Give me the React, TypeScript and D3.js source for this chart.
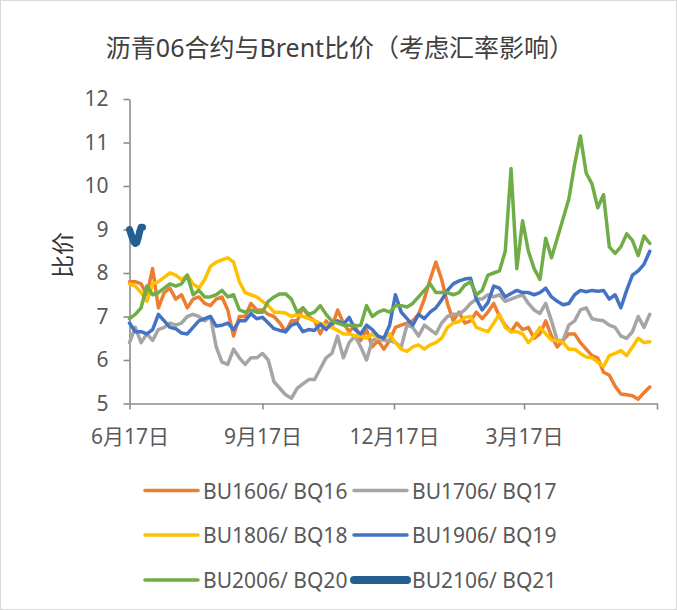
import { useRef, useEffect } from "react";
import * as d3 from "d3";

// x axis: one year from 6/17, series sampled every 4 days
const startDate = new Date(2020, 5, 17);
const endDate = new Date(2021, 5, 17);
const stepDays = 4;

const bu1606 = [7.8, 7.8, 7.75, 7.5, 8.1, 7.2, 7.55, 7.65, 7.4, 7.5, 7.2, 7.4, 7.45, 7.3, 7.25, 7.4, 7.45, 7.15, 6.55, 7.0, 7.0, 7.3, 7.15, 7.15, 7.05, 7.0, 6.85, 6.65, 6.9, 6.9, 7.2, 7.0, 6.9, 6.6, 6.9, 6.75, 7.15, 6.85, 6.65, 6.8, 6.45, 6.7, 6.3, 6.45, 6.25, 6.45, 6.75, 6.8, 6.85, 6.9, 7.05, 7.4, 7.85, 8.25, 7.85, 7.3, 6.9, 7.1, 6.85, 6.9, 7.1, 6.95, 7.1, 7.3, 7.0, 6.8, 6.65, 6.85, 6.7, 6.75, 6.5, 6.6, 6.9, 6.55, 6.3, 6.45, 6.6, 6.6, 6.4, 6.25, 6.1, 6.05, 5.72, 5.65, 5.4, 5.22, 5.2, 5.18, 5.1, 5.25, 5.38];
const bu1706 = [6.4, 6.75, 6.4, 6.6, 6.45, 6.7, 6.75, 6.85, 6.8, 6.85, 7.0, 7.05, 7.0, 6.9, 7.0, 6.3, 5.95, 5.9, 6.25, 6.05, 5.9, 6.05, 6.05, 6.15, 6.0, 5.5, 5.35, 5.2, 5.12, 5.35, 5.45, 5.55, 5.55, 5.8, 6.05, 6.15, 6.55, 6.05, 6.4, 6.55, 6.3, 6.0, 6.45, 6.5, 6.45, 6.45, 6.4, 6.3, 6.8, 6.75, 6.55, 6.8, 6.7, 6.6, 6.85, 7.0, 7.05, 7.05, 7.15, 7.3, 7.4, 7.4, 7.5, 7.45, 7.5, 7.35, 7.4, 7.45, 7.5, 7.3, 7.15, 7.07, 7.3, 6.9, 6.45, 6.45, 6.8, 6.9, 7.15, 7.2, 6.95, 6.92, 6.9, 6.8, 6.75, 6.55, 6.5, 6.65, 7.0, 6.75, 7.05];
const bu1806 = [7.75, 7.7, 7.55, 7.35, 7.75, 7.8, 7.9, 8.0, 7.95, 7.85, 7.95, 7.75, 7.65, 7.85, 8.15, 8.25, 8.3, 8.35, 8.25, 7.8, 7.55, 7.5, 7.45, 7.35, 7.25, 7.1, 7.1, 7.08, 7.0, 7.05, 7.0, 6.95, 6.9, 6.85, 6.8, 6.75, 6.68, 6.6, 6.6, 6.55, 6.55, 6.5, 6.6, 6.5, 6.5, 6.6, 6.4, 6.25, 6.2, 6.3, 6.35, 6.25, 6.35, 6.4, 6.5, 6.75, 6.85, 6.88, 6.98, 7.0, 6.75, 6.7, 6.65, 6.85, 7.05, 6.75, 6.65, 6.65, 6.6, 6.4, 6.55, 6.75, 6.6, 6.46, 6.45, 6.4, 6.25, 6.25, 6.15, 6.07, 6.05, 5.95, 5.85, 6.1, 6.15, 6.22, 6.1, 6.3, 6.5, 6.4, 6.42];
const bu1906 = [6.85, 6.65, 6.65, 6.6, 6.7, 7.05, 6.9, 6.75, 6.72, 6.62, 6.6, 6.75, 6.9, 6.95, 7.0, 6.78, 6.8, 6.85, 6.7, 6.9, 6.9, 7.07, 6.95, 6.98, 6.85, 6.72, 6.68, 6.65, 6.8, 6.85, 6.65, 6.7, 6.68, 6.82, 6.7, 6.85, 6.9, 6.82, 6.98, 6.7, 6.6, 6.8, 6.7, 6.55, 6.5, 6.8, 7.5, 7.1, 6.95, 6.8, 7.05, 6.95, 7.1, 7.2, 7.38, 7.6, 7.75, 7.82, 7.86, 7.88, 7.4, 7.15, 7.32, 7.7, 7.65, 7.45, 7.53, 7.6, 7.55, 7.55, 7.5, 7.55, 7.65, 7.45, 7.35, 7.27, 7.3, 7.5, 7.6, 7.57, 7.6, 7.58, 7.6, 7.4, 7.5, 7.2, 7.6, 7.95, 8.05, 8.2, 8.5];
const bu2006 = [6.95, 7.05, 7.2, 7.7, 7.5, 7.55, 7.65, 7.75, 7.7, 7.75, 7.95, 7.5, 7.6, 7.45, 7.45, 7.5, 7.6, 7.45, 7.5, 7.15, 7.1, 7.15, 7.1, 7.1, 7.35, 7.45, 7.52, 7.52, 7.4, 7.1, 7.2, 7.05, 7.1, 7.25, 7.05, 6.9, 6.85, 6.8, 6.8, 6.78, 6.8, 7.25, 7.0, 7.1, 7.15, 7.1, 7.25, 7.25, 7.22, 7.3, 7.45, 7.6, 7.75, 7.55, 7.55, 7.55, 7.5, 7.55, 7.72, 7.8, 7.5, 7.6, 7.95, 8.0, 8.05, 8.5, 10.4, 8.1, 9.2, 8.5, 8.1, 7.85, 8.8, 8.35, 8.8, 9.25, 9.7, 10.5, 11.15, 10.3, 10.05, 9.5, 9.8, 8.6, 8.45, 8.6, 8.9, 8.75, 8.4, 8.85, 8.68];
// BU2106 only has the first few trading days (daily values)
const bu2106 = [9.0, 8.9, 8.8, 8.72, 8.68, 8.7, 8.8, 8.95, 9.05, 9.05];

const seriesNames = ["BU1606/ BQ16", "BU1706/ BQ17", "BU1806/ BQ18", "BU1906/ BQ19", "BU2006/ BQ20", "BU2106/ BQ21"];
const seriesColors = ["#ED7D31", "#A5A5A5", "#FFC000", "#4472C4", "#70AD47", "#255E91"];

const yTicks = [5, 6, 7, 8, 9, 10, 11, 12];
const xTickDates = [new Date(2020, 5, 17), new Date(2020, 8, 17), new Date(2020, 11, 17), new Date(2021, 2, 17), new Date(2021, 5, 17)];
const xTickLabels = ["6月17日", "9月17日", "12月17日", "3月17日", ""];

const title = "沥青06合约与Brent比价（考虑汇率影响）";
const yLabel = "比价";

export default function App() {
  const svgRef = useRef<SVGSVGElement>(null);

  useEffect(() => {
    if (!svgRef.current) return;
    const svg = d3.select(svgRef.current);
    svg.selectAll("*").remove();

    const width = 677;
    const height = 610;
    const font = "'Noto Sans', 'Noto Sans CJK SC', sans-serif";
    const textColor = "#595959";
    const axisColor = "#8c8c8c";

    svg.append("rect")
      .attr("x", 0.5).attr("y", 0.5)
      .attr("width", width - 1).attr("height", height - 1)
      .attr("fill", "#fff").attr("stroke", "#d9d9d9");

    const x = d3.scaleTime().domain([startDate, endDate]).range([129.5, 657]);
    const y = d3.scaleLinear().domain([5, 12]).range([403.5, 99]);

    // Title
    svg.append("text")
      .attr("x", 340).attr("y", 47)
      .attr("text-anchor", "middle").attr("dominant-baseline", "central")
      .attr("font-family", font).attr("font-size", 25)
      .attr("fill", "#404040")
      .text(title);

    // Y label
    svg.append("text")
      .attr("transform", "translate(62,255) rotate(-90)")
      .attr("text-anchor", "middle").attr("dominant-baseline", "central")
      .attr("font-family", font).attr("font-size", 23)
      .attr("fill", "#333")
      .text(yLabel);

    // Axes
    const yAxis = svg.append("g")
      .attr("transform", `translate(${x.range()[0]},0)`)
      .call(
        d3.axisLeft(y)
          .tickValues(yTicks)
          .tickFormat(d3.format("d"))
          .tickSize(6)
          .tickSizeOuter(0)
          .tickPadding(15)
      );
    const xAxis = svg.append("g")
      .attr("transform", `translate(0,${y.range()[0]})`)
      .call(
        d3.axisBottom(x)
          .tickValues(xTickDates)
          .tickSize(6)
          .tickSizeOuter(0)
          .tickPadding(20)
          .tickFormat((_, i) => xTickLabels[i])
      );
    [yAxis, xAxis].forEach((ax) => {
      ax.attr("font-family", font).attr("font-size", 21);
      ax.selectAll("path, line").attr("stroke", axisColor).attr("stroke-width", 1.6);
      ax.selectAll("text").attr("fill", textColor);
    });

    // Series
    const dateAt = (i: number, step: number) => d3.timeDay.offset(startDate, i * step);
    const allSeries = [bu1606, bu1706, bu1806, bu1906, bu2006, bu2106];
    allSeries.forEach((values, k) => {
      const step = k === 5 ? 1 : stepDays;
      const line = d3.line<number>()
        .x((_, i) => x(dateAt(i, step)))
        .y((d) => y(d));
      svg.append("path")
        .datum(values)
        .attr("d", line)
        .attr("fill", "none")
        .attr("stroke", seriesColors[k])
        .attr("stroke-width", k === 5 ? 7 : 3.5)
        .attr("stroke-linejoin", "round")
        .attr("stroke-linecap", "round");
    });

    // Legend
    const legendRows = [490.5, 535, 580];
    const legendCols = [145, 354];
    const legend = svg.append("g");
    seriesNames.forEach((name, k) => {
      const cx = legendCols[k % 2];
      const cy = legendRows[Math.floor(k / 2)];
      legend.append("line")
        .attr("x1", cx).attr("x2", cx + 53)
        .attr("y1", cy).attr("y2", cy)
        .attr("stroke", seriesColors[k])
        .attr("stroke-width", k === 5 ? 8 : 3.5)
        .attr("stroke-linecap", "round");
      legend.append("text")
        .attr("x", cx + 58).attr("y", cy)
        .attr("dominant-baseline", "central")
        .attr("font-family", font).attr("font-size", 21)
        .attr("fill", textColor)
        .text(name);
    });
  }, []);

  return (
    <svg
      ref={svgRef}
      width={677}
      height={610}
      style={{ position: "absolute", left: 0, top: 0 }}
    />
  );
}
